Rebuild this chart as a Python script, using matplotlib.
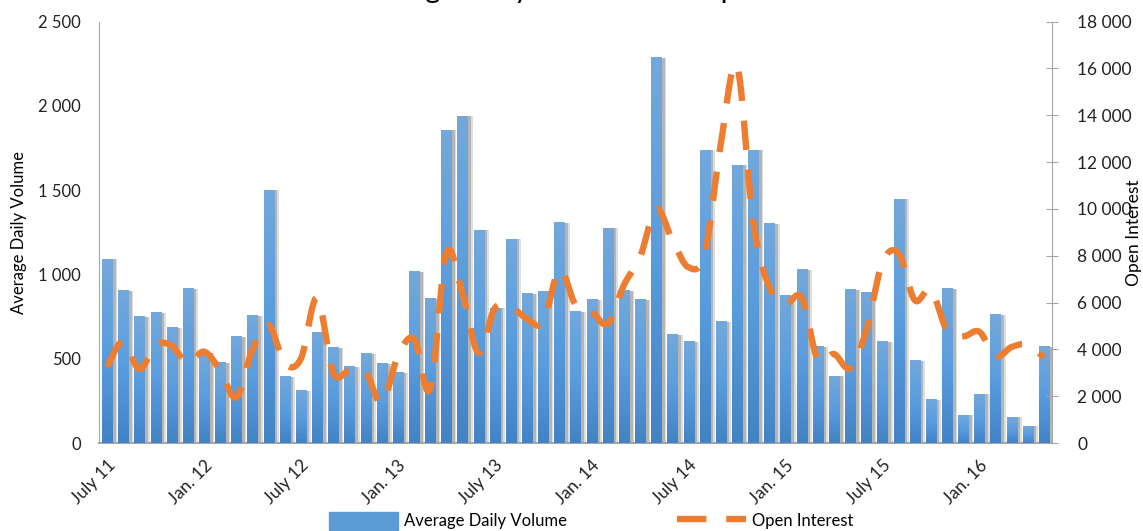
import numpy as np
import matplotlib
matplotlib.use("Agg")
import matplotlib.pyplot as plt
from matplotlib.colors import LinearSegmentedColormap
from matplotlib.lines import Line2D
from matplotlib.patches import Patch
from matplotlib.ticker import FuncFormatter

plt.rcParams['font.family'] = ['Lato', 'DejaVu Sans']

# monthly data, July 2011 .. May 2016
volume = [1090, 903, 749, 773, 683, 915, 536, 476, 631, 755, 1499, 394,
          310, 655, 564, 452, 530, 470, 418, 1015, 855, 1854, 1938, 1263,
          800, 1208, 884, 896, 1305, 779, 849, 1275, 903, 849, 2286, 643,
          600, 1735, 719, 1647, 1735, 1299, 873, 1027, 570, 396, 909, 891,
          600, 1445, 488, 258, 915, 164, 288, 761, 152, 98, 570]
open_interest = [3250, 4350, 3150, 4200, 4150, 3400, 3900, 3100, 1950, 4000,
                 5050, 3400, 3600, 6200, 3000, 3100, 3050, 1700, 3700, 4450,
                 2300, 8100, 6400, 3850, 5750, 5800, 5300, 5150, 7400, 5900,
                 5600, 5100, 6750, 7950, 10000, 8650, 7500, 8100, 12800, 16100,
                 9450, 6650, 5950, 6200, 3550, 3800, 3200, 4800, 7700, 8100,
                 6100, 6550, 4800, 4550, 4750, 3700, 4100, 4200, 3650]
tick_labels = ["July 11", "Jan. 12", "July 12", "Jan. 13", "July 13",
               "Jan. 14", "July 14", "Jan. 15", "July 15", "Jan. 16"]

blue = '#5B9BD5'
orange = '#ED7D31'
grey = '#A6A6A6'


def smooth(xs, ys, n=24):
    # bezier smoothing through every point (like Excel's smoothed line)
    xs = np.asarray(xs, float)
    ys = np.asarray(ys, float)
    px = np.concatenate([[xs[0]], xs, [xs[-1]]])
    py = np.concatenate([[ys[0]], ys, [ys[-1]]])
    t = np.linspace(0, 1, n, endpoint=False)
    ox, oy = [], []
    for i in range(1, len(px) - 2):
        for arr, out in ((px, ox), (py, oy)):
            p0, p1, p2, p3 = arr[i - 1:i + 3]
            c1 = p1 + (p2 - p0) / 6
            c2 = p2 - (p3 - p1) / 6
            out.extend((1 - t) ** 3 * p1 + 3 * (1 - t) ** 2 * t * c1
                       + 3 * (1 - t) * t ** 2 * c2 + t ** 3 * p2)
    ox.append(xs[-1])
    oy.append(ys[-1])
    return np.array(ox), np.array(oy)


fig = plt.figure(figsize=(11.43, 5.31), dpi=100)
ax = fig.add_axes([0.0866, 0.1657, 0.8338, 0.7938])

x = np.arange(len(volume))
w = 0.62
# bar shadows
ax.bar(x + 0.32, volume, width=w, color='#dedede', zorder=1)
ax.bar(x + 0.22, volume, width=w, color='#b5b5b5', zorder=2)

# gradient bars
cmap = LinearSegmentedColormap.from_list('bars', ['#4283C4', '#5A9DDE', '#72A8DC'])
grad = np.linspace(0, 1, 64).reshape(-1, 1)
for xi, h in zip(x, volume):
    ax.imshow(grad, cmap=cmap, extent=(xi - w / 2, xi + w / 2, 0, h),
              origin='lower', aspect='auto', interpolation='bilinear', zorder=3)

ax.set_xlim(-0.5, len(volume) - 0.5)
ax.set_ylim(0, 2500)
ax.set_aspect('auto')
ax.set_yticks(np.arange(0, 2501, 500))
fmt = FuncFormatter(lambda v, p: f"{int(v):,}".replace(",", " "))
ax.yaxis.set_major_formatter(fmt)
ax.tick_params(axis='y', length=0, pad=13, labelsize=12, labelcolor='#222222')
ax.set_xticks(np.arange(0, len(volume), 6))
ax.set_xticklabels(tick_labels, rotation=45, ha='right', va='top',
                   rotation_mode='anchor', fontsize=12.5, color='#222222')
ax.tick_params(axis='x', length=0, pad=10)
ax.set_ylabel('Average Daily Volume', fontsize=12, labelpad=8)
for s in ['top', 'right']:
    ax.spines[s].set_visible(False)
ax.spines['left'].set_color(grey)
ax.spines['bottom'].set_color(grey)
ax.spines['bottom'].set_linewidth(1.5)

ax2 = ax.twinx()
sx, sy = smooth(x, open_interest)
lw = 4.6
ax2.plot(sx, sy, color=orange, lw=lw, ls=(0, (4.6, 3.1)), solid_capstyle='butt',
         dash_capstyle='butt', zorder=5)
ax2.set_ylim(0, 18000)
ax2.set_yticks(np.arange(0, 18001, 2000))
ax2.yaxis.set_major_formatter(fmt)
ax2.tick_params(axis='y', direction='inout', length=8, color=grey, pad=14,
                labelsize=12.5, labelcolor='#222222')
ax2.set_ylabel('Open Interest', fontsize=12.5, va='center', ha='center')
ax2.yaxis.set_label_coords(1.0865, 0.5)
for s in ['top', 'left', 'bottom']:
    ax2.spines[s].set_visible(False)
ax2.spines['right'].set_color(grey)

fig.text(0.536, 1.004, 'Average Daily Volume and Open Interest', fontsize=21,
         ha='center', va='baseline')

handles = [Patch(color=blue),
           Line2D([0], [0], color=orange, lw=lw, ls=(0, (4.6, 3.1)), dash_capstyle='butt')]
fig.legend(handles, ['Average Daily Volume', 'Open Interest'], loc='center left',
           bbox_to_anchor=(0.288, 0.019), ncol=2, frameon=False, fontsize=12,
           handlelength=4.1, handleheight=1.3, handletextpad=0.4,
           columnspacing=6.6, borderpad=0, borderaxespad=0)

fig.savefig('out.png', dpi=100)
